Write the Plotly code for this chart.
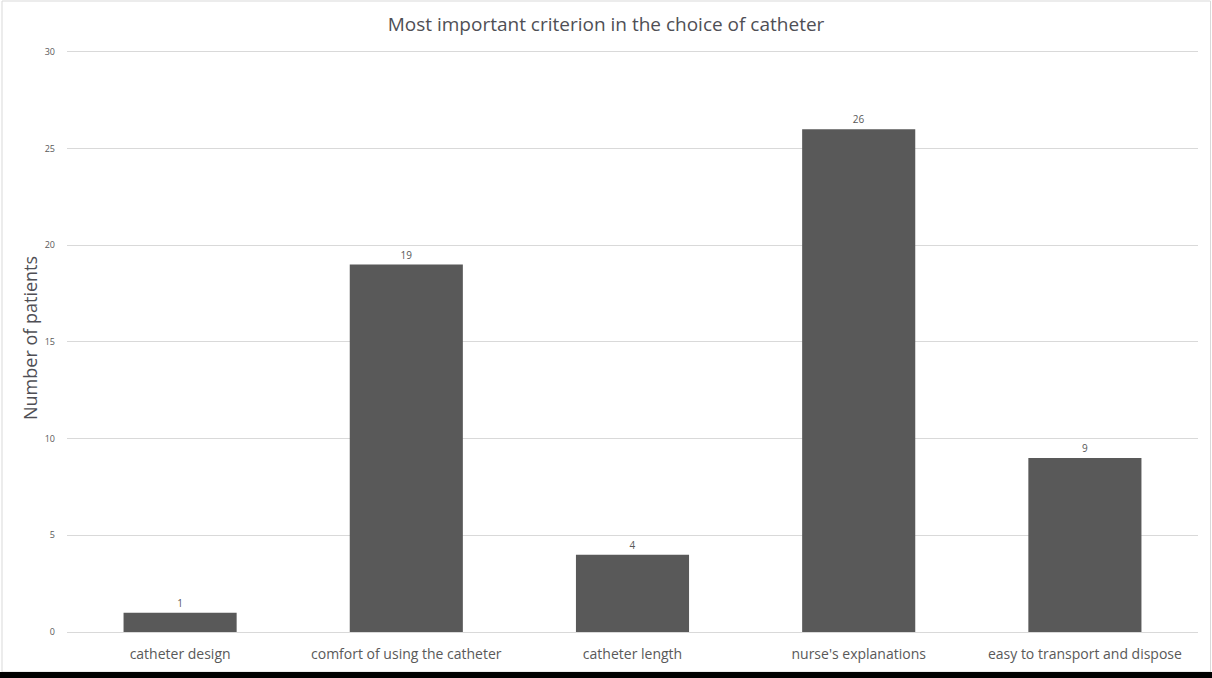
import plotly.graph_objects as go

categories = ["catheter design", "comfort of using the catheter", "catheter length",
              "nurse's explanations", "easy to transport and dispose"]
patients = [1, 19, 4, 26, 9]
y_ticks = [0, 5, 10, 15, 20, 25, 30]

W, H = 1212, 678
ml, mr, mt, mb = 67, 14, 50, 46
ph = H - mt - mb
pw = W - ml - mr

fig = go.Figure(go.Bar(
    x=categories, y=patients, marker_color="#595959", marker_line_width=0,
    text=[str(v) for v in patients], textposition="outside",
    textfont=dict(size=10, color="#595959", family="Open Sans"),
    cliponaxis=False,
))

fig.update_layout(
    width=W, height=H,
    margin=dict(l=ml, r=mr, t=mt, b=mb),
    paper_bgcolor="white", plot_bgcolor="white",
    bargap=0.5,
    showlegend=False,
    title=dict(text="Most important criterion in the choice of catheter",
               x=0.5, xanchor="center", y=1 - 24 / H, yanchor="middle",
               font=dict(size=19, color="#4f4f55", family="Open Sans")),
    font=dict(family="Open Sans", color="#595959"),
    xaxis=dict(tickfont=dict(size=14, color="#595959"), showgrid=False,
               showline=False, ticks="", ticklen=0, ticklabelstandoff=12),
    yaxis=dict(range=[0, 30.1], tickvals=y_ticks, showgrid=True, gridcolor="#d9d9d9",
               gridwidth=1, zeroline=True, zerolinecolor="#d9d9d9", zerolinewidth=1,
               tickfont=dict(size=9, color="#595959"), ticks="", ticklen=0,
               ticklabelstandoff=11),
    annotations=[dict(text="Number of patients", textangle=-90, showarrow=False,
                      xref="paper", yref="paper", x=(30 - ml) / pw, y=(632 - 338) / ph,
                      xanchor="center", yanchor="middle",
                      font=dict(size=18, color="#4f4f55", family="Open Sans"))],
    shapes=[
        dict(type="rect", xref="paper", yref="paper",
             x0=-(ml - 2) / pw, x1=1 + (mr - 1.5) / pw,
             y0=-(mb - 6) / ph, y1=1 + (mt - 1) / ph,
             line=dict(color="#d9d9d9", width=1), layer="below"),
        dict(type="rect", xref="paper", yref="paper",
             x0=-ml / pw, x1=1 + mr / pw,
             y0=-mb / ph, y1=-(mb - 6) / ph,
             fillcolor="black", line=dict(width=0)),
    ],
)

fig.write_html("out.html")
